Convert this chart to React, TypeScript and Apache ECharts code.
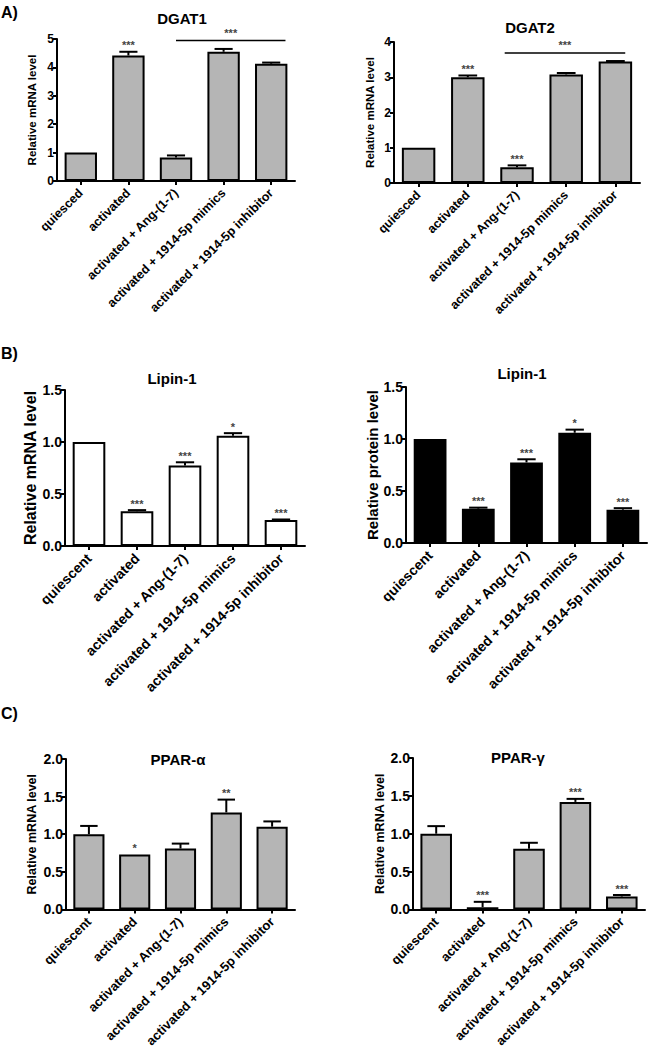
import React, { useEffect, useRef } from "react";
import * as echarts from "echarts";

const catsA = [
  "quiesced",
  "activated",
  "activated + Ang-(1-7)",
  "activated + 1914-5p mimics",
  "activated + 1914-5p inhibitor",
];
const catsBC = [
  "quiescent",
  "activated",
  "activated + Ang-(1-7)",
  "activated + 1914-5p mimics",
  "activated + 1914-5p inhibitor",
];

const dgat1Mean = [1.0, 4.42, 0.83, 4.55, 4.13];
const dgat1Err = [0, 0.13, 0.07, 0.1, 0.04];
const dgat1Sig = ["", "***", "", "", ""];
const dgat1Bracket = { from: 2, to: 4, y: 4.95, label: "***" };

const dgat2Mean = [1.0, 3.0, 0.45, 3.08, 3.45];
const dgat2Err = [0, 0.05, 0.05, 0.04, 0.01];
const dgat2Sig = ["", "***", "***", "", ""];
const dgat2Bracket = { from: 2, to: 4, y: 3.69, label: "***" };

const lipinMrnaMean = [1.0, 0.335, 0.775, 1.06, 0.25];
const lipinMrnaErr = [0, 0.01, 0.03, 0.025, 0.005];
const lipinMrnaSig = ["", "***", "***", "*", "***"];

const lipinProtMean = [1.0, 0.33, 0.775, 1.06, 0.32];
const lipinProtErr = [0, 0.01, 0.03, 0.03, 0.015];
const lipinProtSig = ["", "***", "***", "*", "***"];

const pparAMean = [1.0, 0.73, 0.81, 1.29, 1.1];
const pparAErr = [0.11, 0, 0.065, 0.17, 0.07];
const pparASig = ["", "*", "", "**", ""];

const pparGMean = [1.0, 0.03, 0.8, 1.42, 0.17];
const pparGErr = [0.1, 0.07, 0.08, 0.04, 0.02];
const pparGSig = ["", "***", "", "***", "***"];

const FONT = "'Liberation Sans', Arial, sans-serif";

type Panel = {
  title: string;
  yName: string;
  cats: string[];
  mean: number[];
  err: number[];
  sig: string[];
  bracket?: { from: number; to: number; y: number; label: string };
  max: number;
  interval: number;
  decimals: number;
  fill: string;
  grid: { left: number; top: number; width: number; height: number };
  tickFont: number;
  catFont: number;
  nameFont: number;
  nameGap: number;
  titleFont: number;
  titlePos: [number, number];
};

const panels: Panel[] = [
  {
    title: "DGAT1", yName: "Relative mRNA level", cats: catsA,
    mean: dgat1Mean, err: dgat1Err, sig: dgat1Sig, bracket: dgat1Bracket,
    max: 5, interval: 1, decimals: 0, fill: "#b5b5b5",
    grid: { left: 57, top: 39, width: 238, height: 142 },
    tickFont: 12, catFont: 12.5, nameFont: 11.5, nameGap: 19, titleFont: 15, titlePos: [182, 18],
  },
  {
    title: "DGAT2", yName: "Relative mRNA level", cats: catsA,
    mean: dgat2Mean, err: dgat2Err, sig: dgat2Sig, bracket: dgat2Bracket,
    max: 4, interval: 1, decimals: 0, fill: "#b5b5b5",
    grid: { left: 394, top: 42, width: 246, height: 141 },
    tickFont: 12, catFont: 12.5, nameFont: 11.5, nameGap: 18, titleFont: 15, titlePos: [530, 27],
  },
  {
    title: "Lipin-1", yName: "Relative mRNA level", cats: catsBC,
    mean: lipinMrnaMean, err: lipinMrnaErr, sig: lipinMrnaSig,
    max: 1.5, interval: 0.5, decimals: 1, fill: "#ffffff",
    grid: { left: 65, top: 390, width: 240, height: 156 },
    tickFont: 14, catFont: 14, nameFont: 16, nameGap: 27, titleFont: 15, titlePos: [172, 378],
  },
  {
    title: "Lipin-1", yName: "Relative protein level", cats: catsBC,
    mean: lipinProtMean, err: lipinProtErr, sig: lipinProtSig,
    max: 1.5, interval: 0.5, decimals: 1, fill: "#000000",
    grid: { left: 406, top: 387, width: 241, height: 156 },
    tickFont: 14, catFont: 14, nameFont: 15, nameGap: 26, titleFont: 15, titlePos: [522, 373],
  },
  {
    title: "PPAR-α", yName: "Relative mRNA level", cats: catsBC,
    mean: pparAMean, err: pparAErr, sig: pparASig,
    max: 2, interval: 0.5, decimals: 1, fill: "#b5b5b5",
    grid: { left: 66, top: 759, width: 229, height: 152 },
    tickFont: 14, catFont: 13, nameFont: 12.5, nameGap: 28, titleFont: 15, titlePos: [178, 759],
  },
  {
    title: "PPAR-γ", yName: "Relative mRNA level", cats: catsBC,
    mean: pparGMean, err: pparGErr, sig: pparGSig,
    max: 2, interval: 0.5, decimals: 1, fill: "#b5b5b5",
    grid: { left: 413, top: 758, width: 232, height: 153 },
    tickFont: 14, catFont: 13, nameFont: 12.5, nameGap: 27, titleFont: 15, titlePos: [518, 757],
  },
];

const panelLetters: [string, number][] = [
  ["A)", 12],
  ["B)", 353],
  ["C)", 713],
];

function buildOption() {
  const grid: any[] = [];
  const xAxis: any[] = [];
  const yAxis: any[] = [];
  const series: any[] = [];
  const graphic: any[] = [];

  panels.forEach((p, k) => {
    grid.push({ ...p.grid, containLabel: false });
    xAxis.push({
      type: "category", gridIndex: k, data: p.cats, boundaryGap: true,
      axisLine: { show: true, lineStyle: { color: "#000", width: 2 } },
      axisTick: { show: true, alignWithLabel: true, length: 4, lineStyle: { color: "#000", width: 2 } },
      axisLabel: {
        interval: 0, rotate: 45, margin: 10, color: "#000",
        fontFamily: FONT, fontWeight: "bold", fontSize: p.catFont,
      },
      splitLine: { show: false },
    });
    yAxis.push({
      type: "value", gridIndex: k, min: 0, max: p.max, interval: p.interval,
      name: p.yName, nameLocation: "middle", nameGap: p.nameGap,
      nameTextStyle: { fontFamily: FONT, fontWeight: "bold", fontSize: p.nameFont, color: "#000" },
      axisLine: { show: true, lineStyle: { color: "#000", width: 2 } },
      axisTick: { show: true, length: 4, lineStyle: { color: "#000", width: 2 } },
      axisLabel: {
        color: "#000", fontFamily: FONT, fontWeight: "bold", fontSize: p.tickFont, margin: 3,
        formatter: (v: number) => v.toFixed(p.decimals),
      },
      splitLine: { show: false },
    });
    series.push({
      type: "bar", xAxisIndex: k, yAxisIndex: k, data: p.mean, barWidth: "68%",
      itemStyle: { color: p.fill, borderColor: "#000", borderWidth: 2 },
      z: 2,
    });
    series.push({
      type: "custom", xAxisIndex: k, yAxisIndex: k, z: 3,
      data: p.mean.map((m, i) => [i, m, p.err[i]]),
      renderItem: (params: any, api: any) => {
        const i = api.value(0);
        const m = api.value(1);
        const e = api.value(2);
        const base = api.coord([i, m]);
        const top = api.coord([i, m + e]);
        const bw = api.size([1, 0])[0] * 0.68;
        const hw = bw * 0.28;
        const children: any[] = [];
        if (e > 0) {
          children.push({
            type: "line",
            shape: { x1: base[0], y1: base[1], x2: top[0], y2: top[1] },
            style: { stroke: "#000", lineWidth: 2 },
          });
          children.push({
            type: "line",
            shape: { x1: top[0] - hw, y1: top[1], x2: top[0] + hw, y2: top[1] },
            style: { stroke: "#000", lineWidth: 2 },
          });
        }
        const s = p.sig[params.dataIndex];
        if (s) {
          children.push({
            type: "text",
            x: top[0], y: top[1] - 1,
            style: {
              text: s, fill: "#444", font: `bold 11px ${FONT}`,
              align: "center", verticalAlign: "bottom",
            },
          });
        }
        return { type: "group", children };
      },
    });
    if (p.bracket) {
      const b = p.bracket;
      series.push({
        type: "custom", xAxisIndex: k, yAxisIndex: k, z: 3,
        data: [[b.from, b.to, b.y]],
        renderItem: (params: any, api: any) => {
          const a = api.coord([api.value(0), api.value(2)]);
          const c = api.coord([api.value(1), api.value(2)]);
          const bw = api.size([1, 0])[0];
          const x1 = k === 0 ? a[0] : a[0] - bw * 0.25;
          const x2 = c[0] + bw * (k === 0 ? 0.3 : 0.2);
          return {
            type: "group",
            children: [
              { type: "line", shape: { x1, y1: a[1], x2, y2: a[1] }, style: { stroke: "#000", lineWidth: 1.5 } },
              {
                type: "text", x: (x1 + x2) / 2, y: a[1] - 2,
                style: { text: b.label, fill: "#444", font: `bold 11px ${FONT}`, align: "center", verticalAlign: "bottom" },
              },
            ],
          };
        },
      });
    }
    graphic.push({
      type: "text", x: p.titlePos[0], y: p.titlePos[1],
      style: {
        text: p.title, fill: "#000", font: `bold ${p.titleFont}px ${FONT}`,
        align: "center", verticalAlign: "middle",
      },
    });
  });

  panelLetters.forEach(([t, y]) => {
    graphic.push({
      type: "text", x: 1, y,
      style: { text: t, fill: "#000", font: `bold 16px ${FONT}`, align: "left", verticalAlign: "middle" },
    });
  });

  return { animation: false, backgroundColor: "#fff", grid, xAxis, yAxis, series, graphic };
}

export default function App() {
  const ref = useRef<HTMLDivElement>(null);
  useEffect(() => {
    if (!ref.current) return;
    const chart = echarts.init(ref.current, undefined, { renderer: "svg" });
    chart.setOption(buildOption() as any);
    return () => chart.dispose();
  }, []);
  return (
    <div
      ref={ref}
      style={{ position: "absolute", left: 0, top: 0, width: 649, height: 1050, background: "#fff" }}
    />
  );
}
